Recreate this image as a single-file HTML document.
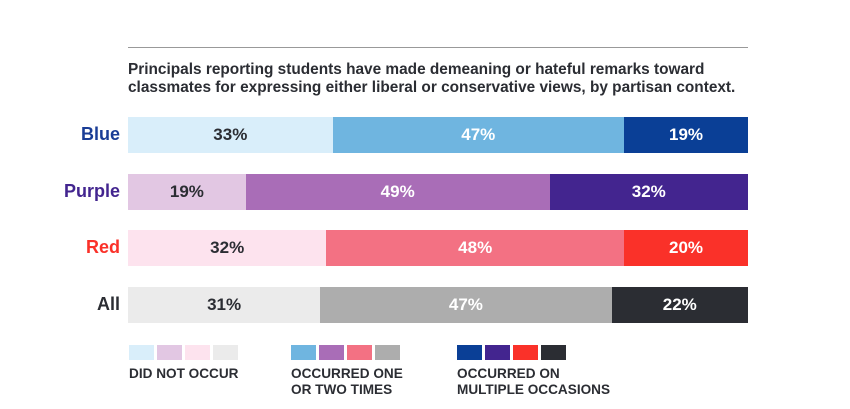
<!DOCTYPE html>
<html><head><meta charset="utf-8"><style>
body{margin:0;width:850px;height:409px;background:#fff;font-family:"Liberation Sans",sans-serif;position:relative;overflow:hidden}
.a{position:absolute}
.lab{font-weight:bold;font-size:18px;text-align:right;width:100px;left:20px}
.seg{position:absolute;height:36px;display:flex;align-items:center;justify-content:center;font-size:17px;font-weight:bold}
.sw{position:absolute;width:25px;height:15px;top:345px}
.lt{position:absolute;top:366px;font-size:13.6px;font-weight:bold;color:#2b2d33;line-height:16px}
</style></head><body>
<div class="a" style="left:128px;top:47px;width:620px;height:1px;background:#999"></div>
<div class="a" style="left:128px;top:61px;font-size:15.4px;font-weight:bold;color:#2b2d33;line-height:18px;white-space:nowrap">Principals reporting students have made demeaning or hateful remarks toward<br>classmates for expressing either liberal or conservative views, by partisan context.</div>
<div id="chart"></div>
<div>
<div class="sw" style="left:129px;background:#d9eefa"></div>
<div class="sw" style="left:157px;background:#e2c7e3"></div>
<div class="sw" style="left:185px;background:#fde3ee"></div>
<div class="sw" style="left:213px;background:#ebebeb"></div>
<div class="lt" style="left:129px">DID NOT OCCUR</div>
<div class="sw" style="left:291px;background:#6fb5e0"></div>
<div class="sw" style="left:319px;background:#a96db7"></div>
<div class="sw" style="left:347px;background:#f37183"></div>
<div class="sw" style="left:375px;background:#adadad"></div>
<div class="lt" style="left:291px">OCCURRED ONE<br>OR TWO TIMES</div>
<div class="sw" style="left:457px;background:#0a3f96"></div>
<div class="sw" style="left:485px;background:#43258f"></div>
<div class="sw" style="left:513px;background:#fa3129"></div>
<div class="sw" style="left:541px;background:#2b2d33"></div>
<div class="lt" style="left:457px">OCCURRED ON<br>MULTIPLE OCCASIONS</div>
</div>
<script>
const categories=["Blue","Purple","Red","All"];
const notOccur=[33,19,32,31];
const onceTwice=[47,49,48,47];
const multiple=[19,32,20,22];
const labelColors=["#1a3d96","#43258f","#fa3129","#2b2d33"];
const segColors=[["#d9eefa","#6fb5e0","#0a3f96"],["#e2c7e3","#a96db7","#43258f"],["#fde3ee","#f37183","#fa3129"],["#ebebeb","#adadad","#2b2d33"]];
const X0=128,W=620,Y0=117,STEP=56.7;
const chart=document.getElementById('chart');
categories.forEach((c,i)=>{
  const y=Y0+i*STEP;
  const lab=document.createElement('div');
  lab.className='a lab';
  
  
  lab.style.top=(y+7)+'px';lab.style.color=labelColors[i];lab.textContent=c;
  chart.appendChild(lab);
  const vals=[notOccur[i],onceTwice[i],multiple[i]];
  let x=X0;
  vals.forEach((v,j)=>{
    const w=j<2?v/100*W:(X0+W-x);
    const s=document.createElement('div');
    s.className='seg';
    
    
    s.style.left=x+'px';s.style.top=y+'px';s.style.width=w+'px';
    s.style.background=segColors[i][j];
    s.style.color=j==0?'#2b2d33':'#fff';
    s.textContent=v+'%';
    chart.appendChild(s);x+=w;
  });
});
</script>
</body></html>
